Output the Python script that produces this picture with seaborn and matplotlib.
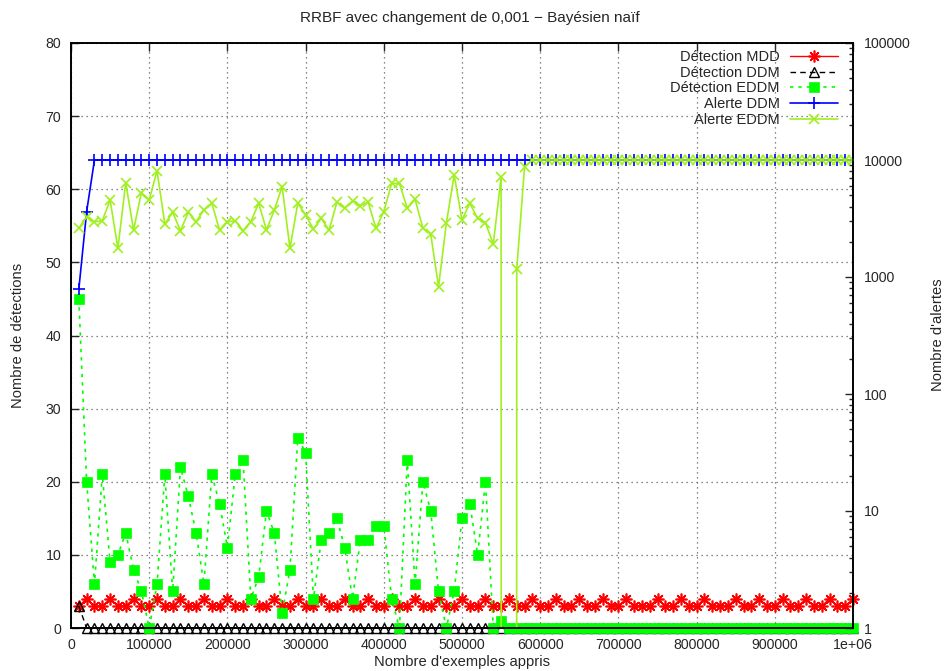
import matplotlib
matplotlib.use('Agg')
import matplotlib.pyplot as plt
import numpy as np
import seaborn as sns

# nombre d'exemples appris (un point tous les 10000)
exemples = np.arange(10000, 1000001, 10000)

det_mdd = [3, 4, 3, 3, 4, 3, 3, 4, 3, 3,
           4, 3, 3, 4, 3, 3, 4, 3, 3, 4,
           3, 3, 4, 3, 3, 4, 3, 3, 4, 3,
           3, 4, 3, 3, 4, 3, 3, 4, 3, 3,
           4, 3, 3, 4, 3, 3, 4, 3, 3, 4,
           3, 3, 4, 3, 3, 4, 3, 3, 4, 3,
           3, 4, 3, 3, 4, 3, 3, 4, 3, 3,
           4, 3, 3, 3, 4, 3, 3, 4, 3, 3,
           4, 3, 3, 3, 4, 3, 3, 4, 3, 3,
           4, 3, 3, 4, 3, 3, 4, 3, 3, 4]

det_ddm = [3, 0, 0, 0, 0, 0, 0, 0, 0, 0,
           0, 0, 0, 0, 0, 0, 0, 0, 0, 0,
           0, 0, 0, 0, 0, 0, 0, 0, 0, 0,
           0, 0, 0, 0, 0, 0, 0, 0, 0, 0,
           0, 0, 0, 0, 0, 0, 0, 0, 0, 0,
           0, 0, 0, 0, 0, 0, 0, 0, 0, 0,
           0, 0, 0, 0, 0, 0, 0, 0, 0, 0,
           0, 0, 0, 0, 0, 0, 0, 0, 0, 0,
           0, 0, 0, 0, 0, 0, 0, 0, 0, 0,
           0, 0, 0, 0, 0, 0, 0, 0, 0, 0]

det_eddm = [45, 20, 6, 21, 9, 10, 13, 8, 5, 0,
            6, 21, 5, 22, 18, 13, 6, 21, 17, 11,
            21, 23, 4, 7, 16, 13, 2, 8, 26, 24,
            4, 12, 13, 15, 11, 4, 12, 12, 14, 14,
            4, 0, 23, 6, 20, 16, 5, 0, 5, 15,
            17, 10, 20, 0, 1, 0, 0, 0, 0, 0,
            0, 0, 0, 0, 0, 0, 0, 0, 0, 0,
            0, 0, 0, 0, 0, 0, 0, 0, 0, 0,
            0, 0, 0, 0, 0, 0, 0, 0, 0, 0,
            0, 0, 0, 0, 0, 0, 0, 0, 0, 0]

alerte_ddm = [785, 3620, 10000, 10000, 10000, 10000, 10000, 10000, 10000, 10000,
              10000, 10000, 10000, 10000, 10000, 10000, 10000, 10000, 10000, 10000,
              10000, 10000, 10000, 10000, 10000, 10000, 10000, 10000, 10000, 10000,
              10000, 10000, 10000, 10000, 10000, 10000, 10000, 10000, 10000, 10000,
              10000, 10000, 10000, 10000, 10000, 10000, 10000, 10000, 10000, 10000,
              10000, 10000, 10000, 10000, 10000, 10000, 10000, 10000, 10000, 10000,
              10000, 10000, 10000, 10000, 10000, 10000, 10000, 10000, 10000, 10000,
              10000, 10000, 10000, 10000, 10000, 10000, 10000, 10000, 10000, 10000,
              10000, 10000, 10000, 10000, 10000, 10000, 10000, 10000, 10000, 10000,
              10000, 10000, 10000, 10000, 10000, 10000, 10000, 10000, 10000, 10000]

alerte_eddm = [2610, 3270, 2970, 3020, 4550, 1760, 6400, 2520, 5250, 4550,
               8100, 2840, 3570, 2490, 3570, 2970, 3740, 4270, 2520, 2970,
               3020, 2490, 2970, 4270, 2520, 3740, 5920, 1760, 4270, 3390,
               2560, 3170, 2520, 4350, 3870, 4460, 4080, 4350, 2610, 3620,
               6310, 6310, 3870, 4610, 2610, 2330, 826, 2880, 7450, 3070,
               4270, 3170, 2910, 1910, 7110, 0, 1160, 8770, 10000, 10000,
               10000, 10000, 10000, 10000, 10000, 10000, 10000, 10000, 10000, 10000,
               10000, 10000, 10000, 10000, 10000, 10000, 10000, 10000, 10000, 10000,
               10000, 10000, 10000, 10000, 10000, 10000, 10000, 10000, 10000, 10000,
               10000, 10000, 10000, 10000, 10000, 10000, 10000, 10000, 10000, 10000]

xticks = [0, 100000, 200000, 300000, 400000, 500000, 600000, 700000, 800000, 900000, 1000000]
xticklabels = ['0', '100000', '200000', '300000', '400000', '500000',
               '600000', '700000', '800000', '900000', '1e+06']

# valeur quasi nulle pour l'echelle log (0 -> trait vertical comme gnuplot)
PLANCHER = 1e-300

sns.set_style('white')
plt.rcParams['font.family'] = ['Liberation Sans', 'DejaVu Sans']
plt.rcParams['font.size'] = 10

fig = plt.figure(figsize=(9.45, 6.71), dpi=100)
ax = fig.add_axes([71 / 945, 1 - 628 / 671, (853 - 71) / 945, (628 - 43) / 671])
ax2 = ax.twinx()
ax2.set_yscale('log')

vert = '#00ff00'
jaune = '#a0f020'

sns.lineplot(x=exemples, y=det_mdd, ax=ax, color='red', lw=1, marker=(8, 2, 0),
             markersize=8.5, markeredgecolor='red', markeredgewidth=1.2,
             label='Détection MDD', errorbar=None, zorder=3, clip_on=False)
sns.lineplot(x=exemples, y=det_ddm, ax=ax, color='black', lw=1, linestyle=(0, (4, 3)),
             marker='^', markersize=7.5, markerfacecolor='none', markeredgecolor='black',
             markeredgewidth=1, label='Détection DDM', errorbar=None, zorder=4, clip_on=False)
sns.lineplot(x=exemples, y=det_eddm, ax=ax, color=vert, lw=1.2, linestyle=(0, (2, 3)),
             marker='s', markersize=6.5, markerfacecolor=vert, markeredgecolor=vert,
             markeredgewidth=0.5, label='Détection EDDM', errorbar=None, zorder=5, clip_on=False)

a_ddm = np.array(alerte_ddm, dtype=float)
a_eddm = np.array(alerte_eddm, dtype=float)
sns.lineplot(x=exemples, y=np.where(a_ddm > 0, a_ddm, PLANCHER), ax=ax2, color='blue', lw=1.2,
             marker='+', markersize=8, markeredgecolor='blue', markeredgewidth=1.2,
             label='Alerte DDM', errorbar=None)
sns.lineplot(x=exemples, y=np.where(a_eddm > 0, a_eddm, PLANCHER), ax=ax2, color=jaune, lw=1.2,
             marker='x', markersize=7, markeredgecolor=jaune, markeredgewidth=1.2,
             label='Alerte EDDM', errorbar=None)

ax.set_xlim(0, 1000000)
ax.set_ylim(0, 80)
ax2.set_ylim(1, 100000)
ax.set_xticks(xticks)
ax.set_xticklabels(xticklabels)
ax.set_yticks(range(0, 81, 10))

ax.grid(True, linestyle=(0, (1, 3)), color='#606060', lw=0.9)
ax.set_axisbelow(True)
ax.tick_params(direction='in', length=6, width=1, top=True, right=False, pad=7, labelsize=10.2)
ax2.tick_params(which='major', direction='in', length=6, width=1, pad=8, labelsize=10.2)
ax2.tick_params(which='minor', direction='in', length=3, width=1)
ax2.yaxis.set_major_formatter(matplotlib.ticker.FuncFormatter(lambda v, p: f'{v:.0f}'))

for a in (ax, ax2):
    for s in a.spines.values():
        s.set_linewidth(1.2)
        s.set_color('black')
        s.set_zorder(6)

if ax.get_legend():
    ax.get_legend().remove()
if ax2.get_legend():
    ax2.get_legend().remove()
h1, l1 = ax.get_legend_handles_labels()
h2, l2 = ax2.get_legend_handles_labels()
ax2.legend(h1 + h2, l1 + l2, loc='upper right', bbox_to_anchor=(838 / 945, 1 - 50 / 671),
           bbox_transform=fig.transFigure, frameon=False, markerfirst=False,
           handlelength=3.3, handletextpad=0.7, labelspacing=0.12, borderpad=0,
           borderaxespad=0, fontsize=10.5)

fig.text(470 / 945, 1 - 18 / 671, 'RRBF avec changement de 0,001 − Bayésien naïf',
         ha='center', va='center', fontsize=11)
fig.text(462 / 945, 1 - 662 / 671, "Nombre d'exemples appris", ha='center', va='center', fontsize=10.6)
fig.text(18 / 945, 1 - 335 / 671, 'Nombre de détections', rotation=90,
         ha='center', va='center', fontsize=10.6)
fig.text(938 / 945, 1 - 335 / 671, "Nombre d'alertes", rotation=90,
         ha='center', va='center', fontsize=10.6)

fig.savefig('out.png', dpi=100)
